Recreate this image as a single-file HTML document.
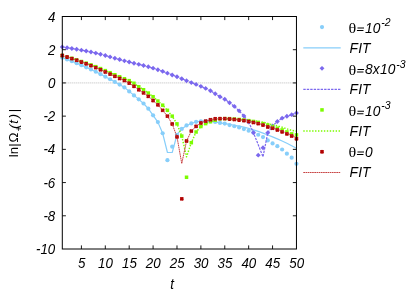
<!DOCTYPE html>
<html><head><meta charset="utf-8"><title>plot</title>
<style>
html,body{margin:0;padding:0;background:#fff;}
body{width:415px;height:291px;overflow:hidden;font-family:"Liberation Sans",sans-serif;}
svg{display:block;will-change:transform;}
</style></head><body>
<svg width="415" height="291" viewBox="0 0 415 291">
<rect width="415" height="291" fill="#fff"/>
<path d="M62.30,82.93 H296.45" stroke="#b4b4b4" stroke-width="0.9" stroke-dasharray="1,1" fill="none"/>
<defs><clipPath id="cp"><rect x="62.30" y="16.50" width="234.15" height="232.50"/></clipPath></defs>
<g clip-path="url(#cp)" fill="none" stroke-linejoin="round">
</g><g>
<circle cx="62.30" cy="57.69" r="2.1" fill="#87cefa"/>
<circle cx="67.08" cy="59.42" r="2.1" fill="#87cefa"/>
<circle cx="71.86" cy="61.26" r="2.1" fill="#87cefa"/>
<circle cx="76.64" cy="63.19" r="2.1" fill="#87cefa"/>
<circle cx="81.41" cy="65.21" r="2.1" fill="#87cefa"/>
<circle cx="86.19" cy="67.30" r="2.1" fill="#87cefa"/>
<circle cx="90.97" cy="69.48" r="2.1" fill="#87cefa"/>
<circle cx="95.75" cy="71.75" r="2.1" fill="#87cefa"/>
<circle cx="100.53" cy="74.16" r="2.1" fill="#87cefa"/>
<circle cx="105.31" cy="76.66" r="2.1" fill="#87cefa"/>
<circle cx="110.09" cy="79.25" r="2.1" fill="#87cefa"/>
<circle cx="114.86" cy="81.90" r="2.1" fill="#87cefa"/>
<circle cx="119.64" cy="84.59" r="2.1" fill="#87cefa"/>
<circle cx="124.42" cy="87.41" r="2.1" fill="#87cefa"/>
<circle cx="129.20" cy="91.40" r="2.1" fill="#87cefa"/>
<circle cx="133.98" cy="95.38" r="2.1" fill="#87cefa"/>
<circle cx="138.76" cy="99.37" r="2.1" fill="#87cefa"/>
<circle cx="143.54" cy="103.52" r="2.1" fill="#87cefa"/>
<circle cx="148.31" cy="108.67" r="2.1" fill="#87cefa"/>
<circle cx="153.09" cy="115.31" r="2.1" fill="#87cefa"/>
<circle cx="157.87" cy="122.12" r="2.1" fill="#87cefa"/>
<circle cx="162.65" cy="133.25" r="2.1" fill="#87cefa"/>
<circle cx="167.43" cy="160.15" r="2.1" fill="#87cefa"/>
<circle cx="172.21" cy="146.70" r="2.1" fill="#87cefa"/>
<circle cx="176.99" cy="134.74" r="2.1" fill="#87cefa"/>
<circle cx="181.76" cy="128.93" r="2.1" fill="#87cefa"/>
<circle cx="186.54" cy="125.44" r="2.1" fill="#87cefa"/>
<circle cx="191.32" cy="123.45" r="2.1" fill="#87cefa"/>
<circle cx="196.10" cy="121.79" r="2.1" fill="#87cefa"/>
<circle cx="200.88" cy="121.29" r="2.1" fill="#87cefa"/>
<circle cx="205.66" cy="121.12" r="2.1" fill="#87cefa"/>
<circle cx="210.44" cy="121.46" r="2.1" fill="#87cefa"/>
<circle cx="215.21" cy="121.96" r="2.1" fill="#87cefa"/>
<circle cx="219.99" cy="122.95" r="2.1" fill="#87cefa"/>
<circle cx="224.77" cy="123.62" r="2.1" fill="#87cefa"/>
<circle cx="229.55" cy="125.11" r="2.1" fill="#87cefa"/>
<circle cx="234.33" cy="126.27" r="2.1" fill="#87cefa"/>
<circle cx="239.11" cy="127.44" r="2.1" fill="#87cefa"/>
<circle cx="243.89" cy="129.10" r="2.1" fill="#87cefa"/>
<circle cx="248.66" cy="130.76" r="2.1" fill="#87cefa"/>
<circle cx="253.44" cy="132.42" r="2.1" fill="#87cefa"/>
<circle cx="258.22" cy="134.74" r="2.1" fill="#87cefa"/>
<circle cx="263.00" cy="137.07" r="2.1" fill="#87cefa"/>
<circle cx="267.78" cy="140.39" r="2.1" fill="#87cefa"/>
<circle cx="272.56" cy="143.38" r="2.1" fill="#87cefa"/>
<circle cx="277.34" cy="146.20" r="2.1" fill="#87cefa"/>
<circle cx="282.11" cy="149.52" r="2.1" fill="#87cefa"/>
<circle cx="286.89" cy="153.68" r="2.1" fill="#87cefa"/>
<circle cx="291.67" cy="157.66" r="2.1" fill="#87cefa"/>
<circle cx="296.45" cy="163.81" r="2.1" fill="#87cefa"/>
</g><g clip-path="url(#cp)" fill="none" stroke-linejoin="round">
<path d="M62.30,57.69 L67.08,59.42 L71.86,61.26 L76.64,63.19 L81.41,65.21 L86.19,67.30 L90.97,69.48 L95.75,71.75 L100.53,74.16 L105.31,76.66 L110.09,79.25 L114.86,81.90 L119.64,84.59 L124.42,87.41 L129.20,91.40 L133.98,95.38 L138.76,99.37 L143.54,103.52 L148.31,108.67 L153.09,115.31 L157.87,122.12 L162.65,133.25 L167.43,152.51 L172.21,152.51 L176.99,134.74 L181.76,128.93 L186.54,125.44 L191.32,123.45 L196.10,121.79 L200.88,121.29 L205.66,121.12 L210.44,121.46 L215.21,121.96 L219.99,122.95 L224.77,123.62 L229.55,124.45 L234.33,125.24 L239.11,126.11 L243.89,127.18 L248.66,128.43 L253.44,129.86 L258.22,131.42 L263.00,133.08 L267.78,134.94 L272.56,136.90 L277.34,138.92 L282.11,141.05 L286.89,143.32 L291.67,145.69 L296.45,148.19" stroke="#87cefa" stroke-width="1.20"/>
</g><g>
<path d="M59.85,47.06 l2.45,-2.45 l2.45,2.45 l-2.45,2.45 z" fill="#7b68ee"/>
<path d="M64.63,47.73 l2.45,-2.45 l2.45,2.45 l-2.45,2.45 z" fill="#7b68ee"/>
<path d="M69.41,48.47 l2.45,-2.45 l2.45,2.45 l-2.45,2.45 z" fill="#7b68ee"/>
<path d="M74.19,49.28 l2.45,-2.45 l2.45,2.45 l-2.45,2.45 z" fill="#7b68ee"/>
<path d="M78.96,50.14 l2.45,-2.45 l2.45,2.45 l-2.45,2.45 z" fill="#7b68ee"/>
<path d="M83.74,51.07 l2.45,-2.45 l2.45,2.45 l-2.45,2.45 z" fill="#7b68ee"/>
<path d="M88.52,52.04 l2.45,-2.45 l2.45,2.45 l-2.45,2.45 z" fill="#7b68ee"/>
<path d="M93.30,53.11 l2.45,-2.45 l2.45,2.45 l-2.45,2.45 z" fill="#7b68ee"/>
<path d="M98.08,54.29 l2.45,-2.45 l2.45,2.45 l-2.45,2.45 z" fill="#7b68ee"/>
<path d="M102.86,55.57 l2.45,-2.45 l2.45,2.45 l-2.45,2.45 z" fill="#7b68ee"/>
<path d="M107.64,56.90 l2.45,-2.45 l2.45,2.45 l-2.45,2.45 z" fill="#7b68ee"/>
<path d="M112.41,58.24 l2.45,-2.45 l2.45,2.45 l-2.45,2.45 z" fill="#7b68ee"/>
<path d="M117.19,59.57 l2.45,-2.45 l2.45,2.45 l-2.45,2.45 z" fill="#7b68ee"/>
<path d="M121.97,60.84 l2.45,-2.45 l2.45,2.45 l-2.45,2.45 z" fill="#7b68ee"/>
<path d="M126.75,62.04 l2.45,-2.45 l2.45,2.45 l-2.45,2.45 z" fill="#7b68ee"/>
<path d="M131.53,63.20 l2.45,-2.45 l2.45,2.45 l-2.45,2.45 z" fill="#7b68ee"/>
<path d="M136.31,64.35 l2.45,-2.45 l2.45,2.45 l-2.45,2.45 z" fill="#7b68ee"/>
<path d="M141.09,65.53 l2.45,-2.45 l2.45,2.45 l-2.45,2.45 z" fill="#7b68ee"/>
<path d="M145.86,66.78 l2.45,-2.45 l2.45,2.45 l-2.45,2.45 z" fill="#7b68ee"/>
<path d="M150.64,68.15 l2.45,-2.45 l2.45,2.45 l-2.45,2.45 z" fill="#7b68ee"/>
<path d="M155.42,69.68 l2.45,-2.45 l2.45,2.45 l-2.45,2.45 z" fill="#7b68ee"/>
<path d="M160.20,71.37 l2.45,-2.45 l2.45,2.45 l-2.45,2.45 z" fill="#7b68ee"/>
<path d="M164.98,73.15 l2.45,-2.45 l2.45,2.45 l-2.45,2.45 z" fill="#7b68ee"/>
<path d="M169.76,74.96 l2.45,-2.45 l2.45,2.45 l-2.45,2.45 z" fill="#7b68ee"/>
<path d="M174.54,76.81 l2.45,-2.45 l2.45,2.45 l-2.45,2.45 z" fill="#7b68ee"/>
<path d="M179.31,78.73 l2.45,-2.45 l2.45,2.45 l-2.45,2.45 z" fill="#7b68ee"/>
<path d="M184.09,80.69 l2.45,-2.45 l2.45,2.45 l-2.45,2.45 z" fill="#7b68ee"/>
<path d="M188.87,82.58 l2.45,-2.45 l2.45,2.45 l-2.45,2.45 z" fill="#7b68ee"/>
<path d="M193.65,84.42 l2.45,-2.45 l2.45,2.45 l-2.45,2.45 z" fill="#7b68ee"/>
<path d="M198.43,86.33 l2.45,-2.45 l2.45,2.45 l-2.45,2.45 z" fill="#7b68ee"/>
<path d="M203.21,88.39 l2.45,-2.45 l2.45,2.45 l-2.45,2.45 z" fill="#7b68ee"/>
<path d="M207.99,90.73 l2.45,-2.45 l2.45,2.45 l-2.45,2.45 z" fill="#7b68ee"/>
<path d="M212.76,93.72 l2.45,-2.45 l2.45,2.45 l-2.45,2.45 z" fill="#7b68ee"/>
<path d="M217.54,96.71 l2.45,-2.45 l2.45,2.45 l-2.45,2.45 z" fill="#7b68ee"/>
<path d="M222.32,99.20 l2.45,-2.45 l2.45,2.45 l-2.45,2.45 z" fill="#7b68ee"/>
<path d="M227.10,102.69 l2.45,-2.45 l2.45,2.45 l-2.45,2.45 z" fill="#7b68ee"/>
<path d="M231.88,106.34 l2.45,-2.45 l2.45,2.45 l-2.45,2.45 z" fill="#7b68ee"/>
<path d="M236.66,110.83 l2.45,-2.45 l2.45,2.45 l-2.45,2.45 z" fill="#7b68ee"/>
<path d="M241.44,115.98 l2.45,-2.45 l2.45,2.45 l-2.45,2.45 z" fill="#7b68ee"/>
<path d="M246.21,122.04 l2.45,-2.45 l2.45,2.45 l-2.45,2.45 z" fill="#7b68ee"/>
<path d="M250.99,132.75 l2.45,-2.45 l2.45,2.45 l-2.45,2.45 z" fill="#7b68ee"/>
<path d="M255.77,155.17 l2.45,-2.45 l2.45,2.45 l-2.45,2.45 z" fill="#7b68ee"/>
<path d="M260.55,147.70 l2.45,-2.45 l2.45,2.45 l-2.45,2.45 z" fill="#7b68ee"/>
<path d="M265.33,132.75 l2.45,-2.45 l2.45,2.45 l-2.45,2.45 z" fill="#7b68ee"/>
<path d="M270.11,125.94 l2.45,-2.45 l2.45,2.45 l-2.45,2.45 z" fill="#7b68ee"/>
<path d="M274.89,121.46 l2.45,-2.45 l2.45,2.45 l-2.45,2.45 z" fill="#7b68ee"/>
<path d="M279.66,118.14 l2.45,-2.45 l2.45,2.45 l-2.45,2.45 z" fill="#7b68ee"/>
<path d="M284.44,116.31 l2.45,-2.45 l2.45,2.45 l-2.45,2.45 z" fill="#7b68ee"/>
<path d="M289.22,114.65 l2.45,-2.45 l2.45,2.45 l-2.45,2.45 z" fill="#7b68ee"/>
<path d="M294.00,112.99 l2.45,-2.45 l2.45,2.45 l-2.45,2.45 z" fill="#7b68ee"/>
</g><g clip-path="url(#cp)" fill="none" stroke-linejoin="round">
<path d="M62.30,47.06 L67.08,47.73 L71.86,48.47 L76.64,49.28 L81.41,50.14 L86.19,51.07 L90.97,52.04 L95.75,53.11 L100.53,54.29 L105.31,55.57 L110.09,56.90 L114.86,58.24 L119.64,59.57 L124.42,60.84 L129.20,62.04 L133.98,63.20 L138.76,64.35 L143.54,65.53 L148.31,66.78 L153.09,68.15 L157.87,69.68 L162.65,71.37 L167.43,73.15 L172.21,74.96 L176.99,76.81 L181.76,78.73 L186.54,80.69 L191.32,82.58 L196.10,84.42 L200.88,86.33 L205.66,88.39 L210.44,90.73 L215.21,93.72 L219.99,96.71 L224.77,99.20 L229.55,102.69 L234.33,106.34 L239.11,110.83 L243.89,115.98 L248.66,122.04 L253.44,132.75 L258.22,144.71 L263.00,156.83 L267.78,132.75 L272.56,125.94 L277.34,121.46 L282.11,118.14 L286.89,116.31 L291.67,114.65 L296.45,112.99" stroke="#7b68ee" stroke-width="1.20" stroke-dasharray="2.4,1.07"/>
</g><g>
<rect x="60.55" y="53.69" width="3.50" height="3.50" fill="#7cfc00"/>
<rect x="65.33" y="55.10" width="3.50" height="3.50" fill="#7cfc00"/>
<rect x="70.11" y="56.58" width="3.50" height="3.50" fill="#7cfc00"/>
<rect x="74.89" y="58.13" width="3.50" height="3.50" fill="#7cfc00"/>
<rect x="79.66" y="59.74" width="3.50" height="3.50" fill="#7cfc00"/>
<rect x="84.44" y="61.40" width="3.50" height="3.50" fill="#7cfc00"/>
<rect x="89.22" y="63.12" width="3.50" height="3.50" fill="#7cfc00"/>
<rect x="94.00" y="64.91" width="3.50" height="3.50" fill="#7cfc00"/>
<rect x="98.78" y="66.84" width="3.50" height="3.50" fill="#7cfc00"/>
<rect x="103.56" y="68.86" width="3.50" height="3.50" fill="#7cfc00"/>
<rect x="108.34" y="70.93" width="3.50" height="3.50" fill="#7cfc00"/>
<rect x="113.11" y="73.01" width="3.50" height="3.50" fill="#7cfc00"/>
<rect x="117.89" y="75.04" width="3.50" height="3.50" fill="#7cfc00"/>
<rect x="122.67" y="76.98" width="3.50" height="3.50" fill="#7cfc00"/>
<rect x="127.45" y="78.90" width="3.50" height="3.50" fill="#7cfc00"/>
<rect x="132.23" y="81.53" width="3.50" height="3.50" fill="#7cfc00"/>
<rect x="137.01" y="85.00" width="3.50" height="3.50" fill="#7cfc00"/>
<rect x="141.79" y="87.99" width="3.50" height="3.50" fill="#7cfc00"/>
<rect x="146.56" y="91.31" width="3.50" height="3.50" fill="#7cfc00"/>
<rect x="151.34" y="94.96" width="3.50" height="3.50" fill="#7cfc00"/>
<rect x="156.12" y="99.28" width="3.50" height="3.50" fill="#7cfc00"/>
<rect x="160.90" y="103.43" width="3.50" height="3.50" fill="#7cfc00"/>
<rect x="165.68" y="108.58" width="3.50" height="3.50" fill="#7cfc00"/>
<rect x="170.46" y="114.39" width="3.50" height="3.50" fill="#7cfc00"/>
<rect x="175.24" y="122.12" width="3.50" height="3.50" fill="#7cfc00"/>
<rect x="180.01" y="134.32" width="3.50" height="3.50" fill="#7cfc00"/>
<rect x="184.79" y="175.51" width="3.50" height="3.50" fill="#7cfc00"/>
<rect x="189.57" y="140.96" width="3.50" height="3.50" fill="#7cfc00"/>
<rect x="194.35" y="130.25" width="3.50" height="3.50" fill="#7cfc00"/>
<rect x="199.13" y="124.77" width="3.50" height="3.50" fill="#7cfc00"/>
<rect x="203.91" y="121.87" width="3.50" height="3.50" fill="#7cfc00"/>
<rect x="208.69" y="119.96" width="3.50" height="3.50" fill="#7cfc00"/>
<rect x="213.46" y="118.46" width="3.50" height="3.50" fill="#7cfc00"/>
<rect x="218.24" y="117.05" width="3.50" height="3.50" fill="#7cfc00"/>
<rect x="223.02" y="116.88" width="3.50" height="3.50" fill="#7cfc00"/>
<rect x="227.80" y="116.88" width="3.50" height="3.50" fill="#7cfc00"/>
<rect x="232.58" y="117.22" width="3.50" height="3.50" fill="#7cfc00"/>
<rect x="237.36" y="117.71" width="3.50" height="3.50" fill="#7cfc00"/>
<rect x="242.14" y="118.21" width="3.50" height="3.50" fill="#7cfc00"/>
<rect x="246.91" y="118.88" width="3.50" height="3.50" fill="#7cfc00"/>
<rect x="251.69" y="119.71" width="3.50" height="3.50" fill="#7cfc00"/>
<rect x="256.47" y="120.70" width="3.50" height="3.50" fill="#7cfc00"/>
<rect x="261.25" y="121.87" width="3.50" height="3.50" fill="#7cfc00"/>
<rect x="266.03" y="123.36" width="3.50" height="3.50" fill="#7cfc00"/>
<rect x="270.81" y="125.19" width="3.50" height="3.50" fill="#7cfc00"/>
<rect x="275.59" y="126.52" width="3.50" height="3.50" fill="#7cfc00"/>
<rect x="280.36" y="128.18" width="3.50" height="3.50" fill="#7cfc00"/>
<rect x="285.14" y="130.17" width="3.50" height="3.50" fill="#7cfc00"/>
<rect x="289.92" y="132.16" width="3.50" height="3.50" fill="#7cfc00"/>
<rect x="294.70" y="133.16" width="3.50" height="3.50" fill="#7cfc00"/>
</g><g clip-path="url(#cp)" fill="none" stroke-linejoin="round">
<path d="M62.30,55.44 L67.08,56.85 L71.86,58.33 L76.64,59.88 L81.41,61.49 L86.19,63.15 L90.97,64.87 L95.75,66.66 L100.53,68.59 L105.31,70.61 L110.09,72.68 L114.86,74.76 L119.64,76.79 L124.42,78.73 L129.20,80.65 L133.98,83.28 L138.76,86.75 L143.54,89.74 L148.31,93.06 L153.09,96.71 L157.87,101.03 L162.65,105.18 L167.43,110.33 L172.21,116.14 L176.99,123.87 L181.76,136.07 L186.54,156.83 L191.32,142.71 L196.10,132.00 L200.88,126.52 L205.66,123.62 L210.44,121.71 L215.21,120.21 L219.99,118.80 L224.77,118.63 L229.55,118.63 L234.33,118.97 L239.11,119.33 L243.89,119.63 L248.66,120.06 L253.44,120.63 L258.22,121.35 L263.00,122.22 L267.78,123.40 L272.56,124.91 L277.34,125.90 L282.11,127.21 L286.89,128.85 L291.67,130.47 L296.45,131.09" stroke="#7cfc00" stroke-width="1.50" stroke-dasharray="1.4,1.54"/>
</g><g>
<rect x="60.55" y="53.78" width="3.50" height="3.50" fill="#cf4a4a" stroke="none"/><path d="M60.95,54.18 l2.70,2.70 M60.95,56.88 l2.70,-2.70" stroke="#b00000" stroke-width="1.7" stroke-dasharray="none" fill="none"/>
<rect x="65.33" y="55.28" width="3.50" height="3.50" fill="#cf4a4a" stroke="none"/><path d="M65.73,55.68 l2.70,2.70 M65.73,58.38 l2.70,-2.70" stroke="#b00000" stroke-width="1.7" stroke-dasharray="none" fill="none"/>
<rect x="70.11" y="56.87" width="3.50" height="3.50" fill="#cf4a4a" stroke="none"/><path d="M70.51,57.27 l2.70,2.70 M70.51,59.97 l2.70,-2.70" stroke="#b00000" stroke-width="1.7" stroke-dasharray="none" fill="none"/>
<rect x="74.89" y="58.53" width="3.50" height="3.50" fill="#cf4a4a" stroke="none"/><path d="M75.29,58.93 l2.70,2.70 M75.29,61.63 l2.70,-2.70" stroke="#b00000" stroke-width="1.7" stroke-dasharray="none" fill="none"/>
<rect x="79.66" y="60.26" width="3.50" height="3.50" fill="#cf4a4a" stroke="none"/><path d="M80.06,60.66 l2.70,2.70 M80.06,63.36 l2.70,-2.70" stroke="#b00000" stroke-width="1.7" stroke-dasharray="none" fill="none"/>
<rect x="84.44" y="62.05" width="3.50" height="3.50" fill="#cf4a4a" stroke="none"/><path d="M84.84,62.45 l2.70,2.70 M84.84,65.15 l2.70,-2.70" stroke="#b00000" stroke-width="1.7" stroke-dasharray="none" fill="none"/>
<rect x="89.22" y="63.91" width="3.50" height="3.50" fill="#cf4a4a" stroke="none"/><path d="M89.62,64.31 l2.70,2.70 M89.62,67.01 l2.70,-2.70" stroke="#b00000" stroke-width="1.7" stroke-dasharray="none" fill="none"/>
<rect x="94.00" y="65.88" width="3.50" height="3.50" fill="#cf4a4a" stroke="none"/><path d="M94.40,66.28 l2.70,2.70 M94.40,68.98 l2.70,-2.70" stroke="#b00000" stroke-width="1.7" stroke-dasharray="none" fill="none"/>
<rect x="98.78" y="67.99" width="3.50" height="3.50" fill="#cf4a4a" stroke="none"/><path d="M99.18,68.39 l2.70,2.70 M99.18,71.09 l2.70,-2.70" stroke="#b00000" stroke-width="1.7" stroke-dasharray="none" fill="none"/>
<rect x="103.56" y="70.18" width="3.50" height="3.50" fill="#cf4a4a" stroke="none"/><path d="M103.96,70.58 l2.70,2.70 M103.96,73.28 l2.70,-2.70" stroke="#b00000" stroke-width="1.7" stroke-dasharray="none" fill="none"/>
<rect x="108.34" y="72.40" width="3.50" height="3.50" fill="#cf4a4a" stroke="none"/><path d="M108.74,72.80 l2.70,2.70 M108.74,75.50 l2.70,-2.70" stroke="#b00000" stroke-width="1.7" stroke-dasharray="none" fill="none"/>
<rect x="113.11" y="74.59" width="3.50" height="3.50" fill="#cf4a4a" stroke="none"/><path d="M113.51,74.99 l2.70,2.70 M113.51,77.69 l2.70,-2.70" stroke="#b00000" stroke-width="1.7" stroke-dasharray="none" fill="none"/>
<rect x="117.89" y="76.69" width="3.50" height="3.50" fill="#cf4a4a" stroke="none"/><path d="M118.29,77.09 l2.70,2.70 M118.29,79.79 l2.70,-2.70" stroke="#b00000" stroke-width="1.7" stroke-dasharray="none" fill="none"/>
<rect x="122.67" y="78.69" width="3.50" height="3.50" fill="#cf4a4a" stroke="none"/><path d="M123.07,79.09 l2.70,2.70 M123.07,81.79 l2.70,-2.70" stroke="#b00000" stroke-width="1.7" stroke-dasharray="none" fill="none"/>
<rect x="127.45" y="81.42" width="3.50" height="3.50" fill="#cf4a4a" stroke="none"/><path d="M127.85,81.82 l2.70,2.70 M127.85,84.52 l2.70,-2.70" stroke="#b00000" stroke-width="1.7" stroke-dasharray="none" fill="none"/>
<rect x="132.23" y="84.58" width="3.50" height="3.50" fill="#cf4a4a" stroke="none"/><path d="M132.63,84.98 l2.70,2.70 M132.63,87.68 l2.70,-2.70" stroke="#b00000" stroke-width="1.7" stroke-dasharray="none" fill="none"/>
<rect x="137.01" y="87.99" width="3.50" height="3.50" fill="#cf4a4a" stroke="none"/><path d="M137.41,88.39 l2.70,2.70 M137.41,91.09 l2.70,-2.70" stroke="#b00000" stroke-width="1.7" stroke-dasharray="none" fill="none"/>
<rect x="141.79" y="91.14" width="3.50" height="3.50" fill="#cf4a4a" stroke="none"/><path d="M142.19,91.54 l2.70,2.70 M142.19,94.24 l2.70,-2.70" stroke="#b00000" stroke-width="1.7" stroke-dasharray="none" fill="none"/>
<rect x="146.56" y="94.63" width="3.50" height="3.50" fill="#cf4a4a" stroke="none"/><path d="M146.96,95.03 l2.70,2.70 M146.96,97.73 l2.70,-2.70" stroke="#b00000" stroke-width="1.7" stroke-dasharray="none" fill="none"/>
<rect x="151.34" y="98.78" width="3.50" height="3.50" fill="#cf4a4a" stroke="none"/><path d="M151.74,99.18 l2.70,2.70 M151.74,101.88 l2.70,-2.70" stroke="#b00000" stroke-width="1.7" stroke-dasharray="none" fill="none"/>
<rect x="156.12" y="103.10" width="3.50" height="3.50" fill="#cf4a4a" stroke="none"/><path d="M156.52,103.50 l2.70,2.70 M156.52,106.20 l2.70,-2.70" stroke="#b00000" stroke-width="1.7" stroke-dasharray="none" fill="none"/>
<rect x="160.90" y="108.58" width="3.50" height="3.50" fill="#cf4a4a" stroke="none"/><path d="M161.30,108.98 l2.70,2.70 M161.30,111.68 l2.70,-2.70" stroke="#b00000" stroke-width="1.7" stroke-dasharray="none" fill="none"/>
<rect x="165.68" y="114.39" width="3.50" height="3.50" fill="#cf4a4a" stroke="none"/><path d="M166.08,114.79 l2.70,2.70 M166.08,117.49 l2.70,-2.70" stroke="#b00000" stroke-width="1.7" stroke-dasharray="none" fill="none"/>
<rect x="170.46" y="122.20" width="3.50" height="3.50" fill="#cf4a4a" stroke="none"/><path d="M170.86,122.60 l2.70,2.70 M170.86,125.30 l2.70,-2.70" stroke="#b00000" stroke-width="1.7" stroke-dasharray="none" fill="none"/>
<rect x="175.24" y="135.15" width="3.50" height="3.50" fill="#cf4a4a" stroke="none"/><path d="M175.64,135.55 l2.70,2.70 M175.64,138.25 l2.70,-2.70" stroke="#b00000" stroke-width="1.7" stroke-dasharray="none" fill="none"/>
<rect x="180.01" y="197.10" width="3.50" height="3.50" fill="#cf4a4a" stroke="none"/><path d="M180.41,197.50 l2.70,2.70 M180.41,200.20 l2.70,-2.70" stroke="#b00000" stroke-width="1.7" stroke-dasharray="none" fill="none"/>
<rect x="184.79" y="139.30" width="3.50" height="3.50" fill="#cf4a4a" stroke="none"/><path d="M185.19,139.70 l2.70,2.70 M185.19,142.40 l2.70,-2.70" stroke="#b00000" stroke-width="1.7" stroke-dasharray="none" fill="none"/>
<rect x="189.57" y="129.34" width="3.50" height="3.50" fill="#cf4a4a" stroke="none"/><path d="M189.97,129.74 l2.70,2.70 M189.97,132.44 l2.70,-2.70" stroke="#b00000" stroke-width="1.7" stroke-dasharray="none" fill="none"/>
<rect x="194.35" y="124.61" width="3.50" height="3.50" fill="#cf4a4a" stroke="none"/><path d="M194.75,125.01 l2.70,2.70 M194.75,127.71 l2.70,-2.70" stroke="#b00000" stroke-width="1.7" stroke-dasharray="none" fill="none"/>
<rect x="199.13" y="121.20" width="3.50" height="3.50" fill="#cf4a4a" stroke="none"/><path d="M199.53,121.60 l2.70,2.70 M199.53,124.30 l2.70,-2.70" stroke="#b00000" stroke-width="1.7" stroke-dasharray="none" fill="none"/>
<rect x="203.91" y="119.38" width="3.50" height="3.50" fill="#cf4a4a" stroke="none"/><path d="M204.31,119.78 l2.70,2.70 M204.31,122.47 l2.70,-2.70" stroke="#b00000" stroke-width="1.7" stroke-dasharray="none" fill="none"/>
<rect x="208.69" y="117.96" width="3.50" height="3.50" fill="#cf4a4a" stroke="none"/><path d="M209.09,118.36 l2.70,2.70 M209.09,121.06 l2.70,-2.70" stroke="#b00000" stroke-width="1.7" stroke-dasharray="none" fill="none"/>
<rect x="213.46" y="117.05" width="3.50" height="3.50" fill="#cf4a4a" stroke="none"/><path d="M213.86,117.45 l2.70,2.70 M213.86,120.15 l2.70,-2.70" stroke="#b00000" stroke-width="1.7" stroke-dasharray="none" fill="none"/>
<rect x="218.24" y="116.88" width="3.50" height="3.50" fill="#cf4a4a" stroke="none"/><path d="M218.64,117.28 l2.70,2.70 M218.64,119.98 l2.70,-2.70" stroke="#b00000" stroke-width="1.7" stroke-dasharray="none" fill="none"/>
<rect x="223.02" y="116.88" width="3.50" height="3.50" fill="#cf4a4a" stroke="none"/><path d="M223.42,117.28 l2.70,2.70 M223.42,119.98 l2.70,-2.70" stroke="#b00000" stroke-width="1.7" stroke-dasharray="none" fill="none"/>
<rect x="227.80" y="117.22" width="3.50" height="3.50" fill="#cf4a4a" stroke="none"/><path d="M228.20,117.62 l2.70,2.70 M228.20,120.32 l2.70,-2.70" stroke="#b00000" stroke-width="1.7" stroke-dasharray="none" fill="none"/>
<rect x="232.58" y="117.71" width="3.50" height="3.50" fill="#cf4a4a" stroke="none"/><path d="M232.98,118.11 l2.70,2.70 M232.98,120.81 l2.70,-2.70" stroke="#b00000" stroke-width="1.7" stroke-dasharray="none" fill="none"/>
<rect x="237.36" y="118.21" width="3.50" height="3.50" fill="#cf4a4a" stroke="none"/><path d="M237.76,118.61 l2.70,2.70 M237.76,121.31 l2.70,-2.70" stroke="#b00000" stroke-width="1.7" stroke-dasharray="none" fill="none"/>
<rect x="242.14" y="118.88" width="3.50" height="3.50" fill="#cf4a4a" stroke="none"/><path d="M242.54,119.28 l2.70,2.70 M242.54,121.98 l2.70,-2.70" stroke="#b00000" stroke-width="1.7" stroke-dasharray="none" fill="none"/>
<rect x="246.91" y="119.71" width="3.50" height="3.50" fill="#cf4a4a" stroke="none"/><path d="M247.31,120.11 l2.70,2.70 M247.31,122.81 l2.70,-2.70" stroke="#b00000" stroke-width="1.7" stroke-dasharray="none" fill="none"/>
<rect x="251.69" y="120.70" width="3.50" height="3.50" fill="#cf4a4a" stroke="none"/><path d="M252.09,121.10 l2.70,2.70 M252.09,123.80 l2.70,-2.70" stroke="#b00000" stroke-width="1.7" stroke-dasharray="none" fill="none"/>
<rect x="256.47" y="121.87" width="3.50" height="3.50" fill="#cf4a4a" stroke="none"/><path d="M256.87,122.27 l2.70,2.70 M256.87,124.97 l2.70,-2.70" stroke="#b00000" stroke-width="1.7" stroke-dasharray="none" fill="none"/>
<rect x="261.25" y="123.36" width="3.50" height="3.50" fill="#cf4a4a" stroke="none"/><path d="M261.65,123.76 l2.70,2.70 M261.65,126.46 l2.70,-2.70" stroke="#b00000" stroke-width="1.7" stroke-dasharray="none" fill="none"/>
<rect x="266.03" y="125.19" width="3.50" height="3.50" fill="#cf4a4a" stroke="none"/><path d="M266.43,125.59 l2.70,2.70 M266.43,128.29 l2.70,-2.70" stroke="#b00000" stroke-width="1.7" stroke-dasharray="none" fill="none"/>
<rect x="270.81" y="126.52" width="3.50" height="3.50" fill="#cf4a4a" stroke="none"/><path d="M271.21,126.92 l2.70,2.70 M271.21,129.62 l2.70,-2.70" stroke="#b00000" stroke-width="1.7" stroke-dasharray="none" fill="none"/>
<rect x="275.59" y="128.18" width="3.50" height="3.50" fill="#cf4a4a" stroke="none"/><path d="M275.99,128.58 l2.70,2.70 M275.99,131.28 l2.70,-2.70" stroke="#b00000" stroke-width="1.7" stroke-dasharray="none" fill="none"/>
<rect x="280.36" y="130.17" width="3.50" height="3.50" fill="#cf4a4a" stroke="none"/><path d="M280.76,130.57 l2.70,2.70 M280.76,133.27 l2.70,-2.70" stroke="#b00000" stroke-width="1.7" stroke-dasharray="none" fill="none"/>
<rect x="285.14" y="132.16" width="3.50" height="3.50" fill="#cf4a4a" stroke="none"/><path d="M285.54,132.56 l2.70,2.70 M285.54,135.26 l2.70,-2.70" stroke="#b00000" stroke-width="1.7" stroke-dasharray="none" fill="none"/>
<rect x="289.92" y="134.32" width="3.50" height="3.50" fill="#cf4a4a" stroke="none"/><path d="M290.32,134.72 l2.70,2.70 M290.32,137.42 l2.70,-2.70" stroke="#b00000" stroke-width="1.7" stroke-dasharray="none" fill="none"/>
<rect x="294.70" y="136.98" width="3.50" height="3.50" fill="#cf4a4a" stroke="none"/><path d="M295.10,137.38 l2.70,2.70 M295.10,140.08 l2.70,-2.70" stroke="#b00000" stroke-width="1.7" stroke-dasharray="none" fill="none"/>
</g><g clip-path="url(#cp)" fill="none" stroke-linejoin="round">
<path d="M62.30,55.53 L67.08,57.03 L71.86,58.62 L76.64,60.28 L81.41,62.01 L86.19,63.80 L90.97,65.66 L95.75,67.63 L100.53,69.74 L105.31,71.93 L110.09,74.15 L114.86,76.34 L119.64,78.44 L124.42,80.44 L129.20,83.17 L133.98,86.33 L138.76,89.74 L143.54,92.89 L148.31,96.38 L153.09,100.53 L157.87,104.85 L162.65,110.33 L167.43,116.14 L172.21,123.95 L176.99,136.90 L181.76,163.47 L186.54,141.05 L191.32,131.09 L196.10,126.36 L200.88,122.95 L205.66,121.12 L210.44,119.71 L215.21,118.80 L219.99,118.63 L224.77,118.63 L229.55,118.97 L234.33,119.46 L239.11,119.96 L243.89,120.63 L248.66,121.37 L253.44,122.27 L258.22,123.34 L263.00,124.75 L267.78,126.48 L272.56,127.72 L277.34,129.29 L282.11,131.19 L286.89,133.10 L291.67,135.17 L296.45,137.73" stroke="#c23030" stroke-width="0.90" stroke-dasharray="1.7,0.5"/>
</g>
<g stroke="#000" stroke-width="1" fill="none" shape-rendering="auto">
<rect x="62.30" y="16.50" width="234.15" height="232.50"/>
</g><g stroke="#000" stroke-width="0.9" fill="none">
<path d="M81.41,249.00 v-3.60 M81.41,16.50 v3.60"/>
<path d="M105.31,249.00 v-3.60 M105.31,16.50 v3.60"/>
<path d="M129.20,249.00 v-3.60 M129.20,16.50 v3.60"/>
<path d="M153.09,249.00 v-3.60 M153.09,16.50 v3.60"/>
<path d="M176.99,249.00 v-3.60 M176.99,16.50 v3.60"/>
<path d="M200.88,249.00 v-3.60 M200.88,16.50 v3.60"/>
<path d="M224.77,249.00 v-3.60 M224.77,16.50 v3.60"/>
<path d="M248.66,249.00 v-3.60 M248.66,16.50 v3.60"/>
<path d="M272.56,249.00 v-3.60 M272.56,16.50 v3.60"/>
<path d="M62.30,215.79 h3.60 M296.45,215.79 h-3.60"/>
<path d="M62.30,182.57 h3.60 M296.45,182.57 h-3.60"/>
<path d="M62.30,149.36 h3.60 M296.45,149.36 h-3.60"/>
<path d="M62.30,116.14 h3.60 M296.45,116.14 h-3.60"/>
<path d="M62.30,82.93 h3.60 M296.45,82.93 h-3.60"/>
<path d="M62.30,49.71 h3.60 M296.45,49.71 h-3.60"/>
</g>
<g font-family="'Liberation Sans', sans-serif" font-style="italic" fill="#000">
<text transform="translate(81.61,268.10) scale(0.940,1)" font-size="14.20" text-anchor="middle" >5</text>
<text transform="translate(105.51,268.10) scale(0.940,1)" font-size="14.20" text-anchor="middle" >10</text>
<text transform="translate(129.40,268.10) scale(0.940,1)" font-size="14.20" text-anchor="middle" >15</text>
<text transform="translate(153.29,268.10) scale(0.940,1)" font-size="14.20" text-anchor="middle" >20</text>
<text transform="translate(177.19,268.10) scale(0.940,1)" font-size="14.20" text-anchor="middle" >25</text>
<text transform="translate(201.08,268.10) scale(0.940,1)" font-size="14.20" text-anchor="middle" >30</text>
<text transform="translate(224.97,268.10) scale(0.940,1)" font-size="14.20" text-anchor="middle" >35</text>
<text transform="translate(248.86,268.10) scale(0.940,1)" font-size="14.20" text-anchor="middle" >40</text>
<text transform="translate(272.76,268.10) scale(0.940,1)" font-size="14.20" text-anchor="middle" >45</text>
<text transform="translate(296.65,268.10) scale(0.940,1)" font-size="14.20" text-anchor="middle" >50</text>
<text transform="translate(55.30,254.00) scale(0.940,1)" font-size="14.20" text-anchor="end" >-10</text>
<text transform="translate(55.30,220.79) scale(0.940,1)" font-size="14.20" text-anchor="end" >-8</text>
<text transform="translate(55.30,187.57) scale(0.940,1)" font-size="14.20" text-anchor="end" >-6</text>
<text transform="translate(55.30,154.36) scale(0.940,1)" font-size="14.20" text-anchor="end" >-4</text>
<text transform="translate(55.30,121.14) scale(0.940,1)" font-size="14.20" text-anchor="end" >-2</text>
<text transform="translate(55.30,87.93) scale(0.940,1)" font-size="14.20" text-anchor="end" >0</text>
<text transform="translate(55.30,54.71) scale(0.940,1)" font-size="14.20" text-anchor="end" >2</text>
<text transform="translate(55.30,21.50) scale(0.940,1)" font-size="14.20" text-anchor="end" >4</text>
<text transform="translate(172.00,289.00) scale(0.940,1)" font-size="14.20" text-anchor="middle" >t</text>
</g>
<g transform="translate(17.7,157.2) rotate(-90)" font-family="'Liberation Sans', sans-serif" font-size="13.3" fill="#000">
<text y="0" x="0 2.95 10.35 14.8">ln|&#937;</text>
<text y="4.7" x="25.6" font-size="9">+</text>
<text y="0" x="28.4 33.5 38.7" font-style="italic">(t)</text>
<text y="0" x="44.95">|</text>
</g>
<g font-family="'Liberation Sans', sans-serif" fill="#000">
<circle cx="322.00" cy="27.10" r="2.1" fill="#87cefa"/>
<text transform="translate(348.50,33.00) scale(1.12,1)" font-family="'Liberation Serif', serif" font-size="14.4">&#952;</text><path d="M356.95,30.45 h6.5 M357.50,27.90 h6.5" stroke="#000" stroke-width="1.05" fill="none"/><text transform="translate(364.90,32.90) scale(0.970,1)" font-size="14.20" text-anchor="start" font-style="italic" letter-spacing="0.25">10</text><text transform="translate(381.30,26.00) scale(0.970,1)" font-size="10.80" text-anchor="start" font-style="italic">-2</text>
<path d="M303.30,47.80 H340.70" stroke="#87cefa" stroke-width="1.20" fill="none"/>
<text transform="translate(349.60,52.70) scale(0.970,1)" font-size="14.20" text-anchor="start" font-style="italic" letter-spacing="0.15">FIT</text>
<path d="M319.55,68.35 l2.45,-2.45 l2.45,2.45 l-2.45,2.45 z" fill="#7b68ee"/>
<text transform="translate(348.50,74.55) scale(1.12,1)" font-family="'Liberation Serif', serif" font-size="14.4">&#952;</text><path d="M356.95,72.00 h6.5 M357.50,69.45 h6.5" stroke="#000" stroke-width="1.05" fill="none"/><text transform="translate(364.90,74.45) scale(0.970,1)" font-size="14.20" text-anchor="start" font-style="italic" letter-spacing="0.25">8x10</text><text transform="translate(396.33,67.55) scale(0.970,1)" font-size="10.80" text-anchor="start" font-style="italic">-3</text>
<path d="M303.30,89.40 H340.70" stroke="#7b68ee" stroke-width="1.20" fill="none" stroke-dasharray="2.4,1.07"/>
<text transform="translate(349.60,94.30) scale(0.970,1)" font-size="14.20" text-anchor="start" font-style="italic" letter-spacing="0.15">FIT</text>
<rect x="320.25" y="108.15" width="3.50" height="3.50" fill="#7cfc00"/>
<text transform="translate(348.50,116.30) scale(1.12,1)" font-family="'Liberation Serif', serif" font-size="14.4">&#952;</text><path d="M356.95,113.75 h6.5 M357.50,111.20 h6.5" stroke="#000" stroke-width="1.05" fill="none"/><text transform="translate(364.90,116.20) scale(0.970,1)" font-size="14.20" text-anchor="start" font-style="italic" letter-spacing="0.25">10</text><text transform="translate(381.30,109.30) scale(0.970,1)" font-size="10.80" text-anchor="start" font-style="italic">-3</text>
<path d="M303.30,130.90 H340.70" stroke="#7cfc00" stroke-width="1.50" fill="none" stroke-dasharray="1.4,1.54"/>
<text transform="translate(349.60,135.80) scale(0.970,1)" font-size="14.20" text-anchor="start" font-style="italic" letter-spacing="0.15">FIT</text>
<rect x="320.25" y="150.00" width="3.50" height="3.50" fill="#cf4a4a" stroke="none"/><path d="M320.65,150.40 l2.70,2.70 M320.65,153.10 l2.70,-2.70" stroke="#b00000" stroke-width="1.7" stroke-dasharray="none" fill="none"/>
<text transform="translate(348.50,157.10) scale(1.12,1)" font-family="'Liberation Serif', serif" font-size="14.4">&#952;</text><path d="M356.95,154.55 h6.5 M357.50,152.00 h6.5" stroke="#000" stroke-width="1.05" fill="none"/><text transform="translate(364.90,157.00) scale(0.970,1)" font-size="14.20" text-anchor="start" font-style="italic" letter-spacing="0.25">0</text>
<path d="M303.30,172.50 H340.70" stroke="#c23030" stroke-width="0.90" fill="none" stroke-dasharray="1.7,0.5"/>
<text transform="translate(349.60,177.40) scale(0.970,1)" font-size="14.20" text-anchor="start" font-style="italic" letter-spacing="0.15">FIT</text>
</g>
</svg>
</body></html>
